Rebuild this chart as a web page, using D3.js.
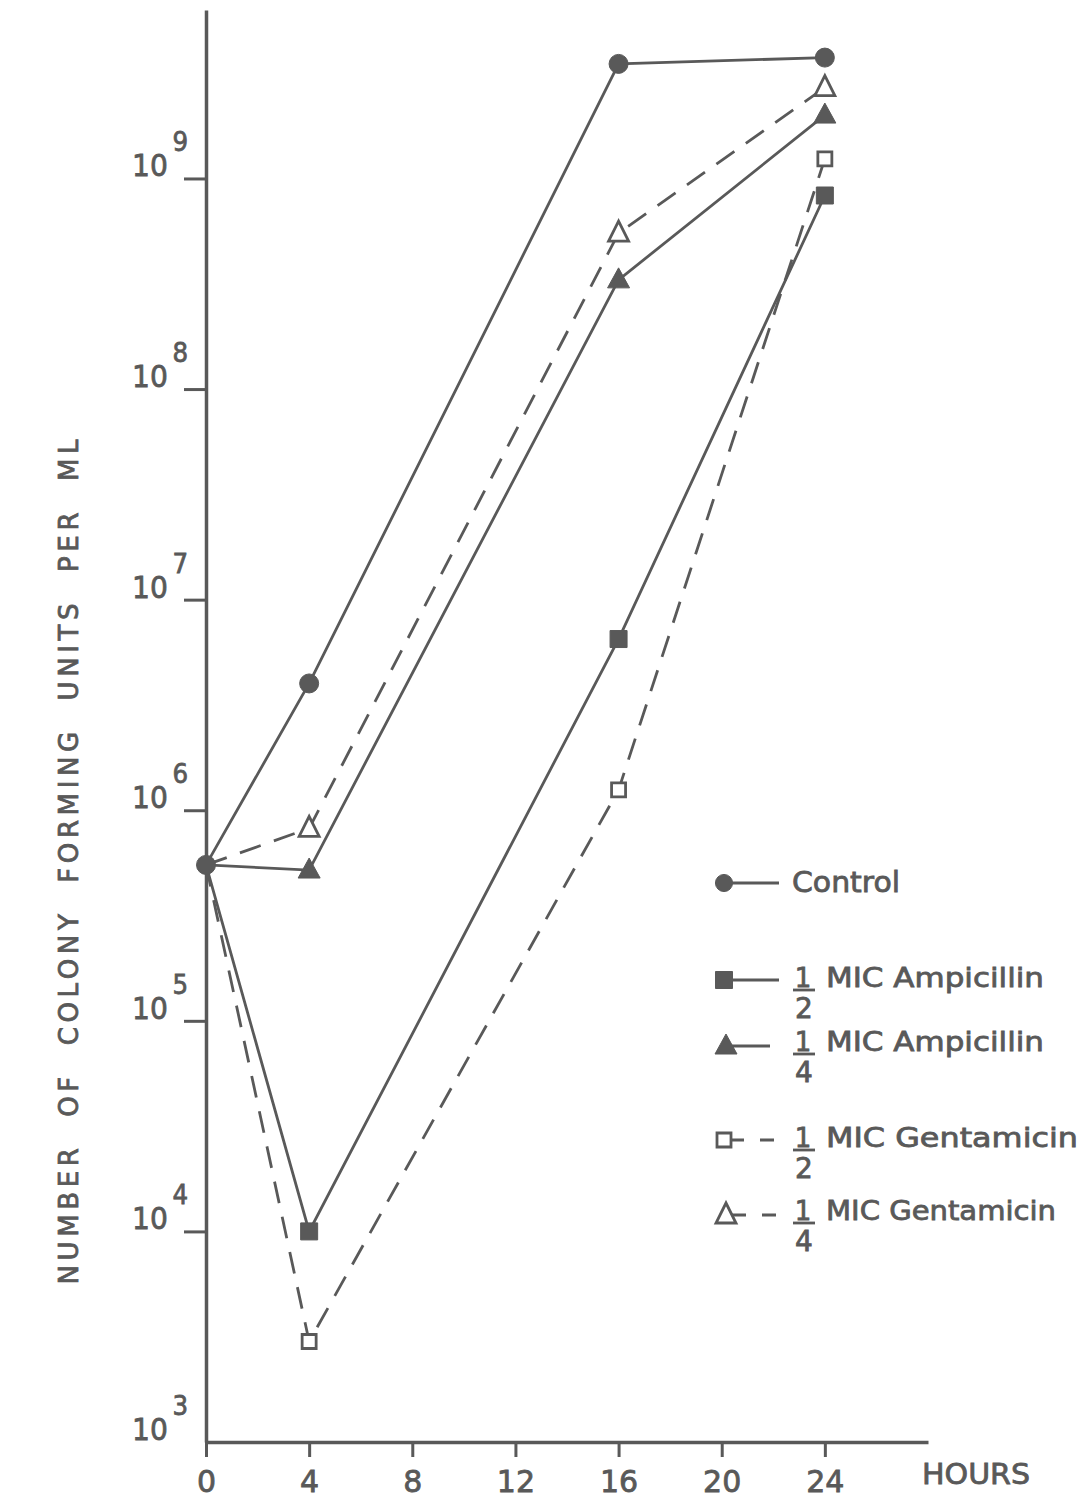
<!DOCTYPE html>
<html>
<head>
<meta charset="utf-8">
<script src="https://cdn.jsdelivr.net/npm/d3@7"></script>
<style>
  html, body { margin: 0; padding: 0; background: #fff; }
  svg text { font-family: "DejaVu Sans", sans-serif; fill: #595959; stroke: #595959; stroke-width: 0.8px; }
</style>
</head>
<body>
<svg id="chart" width="1090" height="1498"></svg>
<script>
// values (CFU per ml)
const hours = [0, 4, 16, 24];
const xTicks = [0, 4, 8, 12, 16, 20, 24];
const yExponents = [3, 4, 5, 6, 7, 8, 9];

const control     = [5.5e5, 4.0e6, 3.5e9, 3.75e9];
const ampHalf     = [5.5e5, 1.0e4, 6.5e6, 8.3e8];
const ampQuarter  = [5.5e5, 5.2e5, 3.3e8, 2.0e9];
const gentHalf    = [5.5e5, 3.0e3, 1.25e6, 1.24e9];
const gentQuarter = [5.5e5, 8.2e5, 5.5e8, 2.7e9];

const seriesKeys   = ['control', 'ampHalf', 'ampQuarter', 'gentHalf', 'gentQuarter'];
const seriesLabels = ['Control', 'MIC Ampicillin', 'MIC Ampicillin', 'MIC Gentamicin', 'MIC Gentamicin'];
const fractionDen  = [null, '2', '4', '2', '4'];

const xTitle = 'HOURS';
const yTitle = 'NUMBER OF COLONY FORMING UNITS PER ML';

const ink = '#595959';
const svg = d3.select('#chart');

// axes run a little past the data, like the drawing
const x = d3.scaleLinear().domain([0, 28]).range([206, 928]);
const y = d3.scaleLog().domain([1e3, Math.pow(10, 9.8)]).range([1442, 10]);

const seriesValues = [control, ampHalf, ampQuarter, gentHalf, gentQuarter];
const series = seriesKeys.map((k, i) => ({
    key: k,
    label: seriesLabels[i],
    den: fractionDen[i],
    points: hours.map((h, j) => ({ h, v: seriesValues[i][j] }))
}));

// how each series is drawn
const style = {
    control:     { marker: 'circle',   filled: true,  dashed: false },
    ampHalf:     { marker: 'square',   filled: true,  dashed: false },
    ampQuarter:  { marker: 'triangle', filled: true,  dashed: false },
    gentHalf:    { marker: 'square',   filled: false, dashed: true },
    gentQuarter: { marker: 'triangle', filled: false, dashed: true }
};

function markerPath(type, filled, scale = 1) {
    if (type === 'circle') {
        const r = 9.5 * scale;
        return `M${-r},0a${r},${r} 0 1,0 ${2*r},0a${r},${r} 0 1,0 ${-2*r},0Z`;
    }
    if (type === 'square') {
        const s = (filled ? 8.5 : 7) * scale;
        return `M${-s},${-s}H${s}V${s}H${-s}Z`;
    }
    const w = (filled ? 11 : 10) * scale, t = 12 * scale, b = 8 * scale;
    return `M0,${-t}L${w},${b}H${-w}Z`;
}

// x axis
const xAxis = svg.append('g')
    .attr('transform', `translate(0,${y(1e3)})`)
    .call(d3.axisBottom(x).tickValues(xTicks).tickSize(15).tickSizeOuter(0));
xAxis.select('.domain').attr('stroke', ink).attr('stroke-width', 3.5);
xAxis.selectAll('.tick line').attr('stroke', ink).attr('stroke-width', 3);
xAxis.selectAll('.tick text')
    .attr('y', 50).attr('dy', 0)
    .style('font-size', '30px');

// y axis: ticks for 10^4..10^9, 10^3 sits on the corner
const yAxis = svg.append('g')
    .attr('transform', `translate(${x(0)},0)`)
    .call(d3.axisLeft(y)
        .tickValues(yExponents.filter(e => e > 3).map(e => Math.pow(10, e)))
        .tickSize(22).tickSizeOuter(0).tickFormat(''));
yAxis.select('.domain').attr('stroke', ink).attr('stroke-width', 3.5);
yAxis.selectAll('.tick line').attr('stroke', ink).attr('stroke-width', 3);

// power-of-ten labels, exponent as a raised tspan
const yLabels = svg.append('g');
yExponents.forEach(e => {
    const t = yLabels.append('text')
        .attr('x', 132).attr('y', y(Math.pow(10, e)) - 2)
        .attr('textLength', 56).attr('lengthAdjust', 'spacingAndGlyphs')
        .style('font-size', '31px')
        .text('10');
    t.append('tspan')
        .attr('dx', 5).attr('dy', -25)
        .style('font-size', '27px')
        .text(e);
});

// axis titles
svg.append('text')
    .attr('x', 922).attr('y', 1484)
    .attr('textLength', 108).attr('lengthAdjust', 'spacingAndGlyphs')
    .style('font-size', '28px')
    .text(xTitle);

svg.append('text')
    .attr('transform', 'translate(78,862) rotate(-90)')
    .attr('text-anchor', 'middle')
    .attr('textLength', 845).attr('lengthAdjust', 'spacing')
    .style('font-size', '26px')
    .style('word-spacing', '14px')
    .text(yTitle);

// lines
const line = d3.line().x(d => x(d.h)).y(d => y(d.v));
const plot = svg.append('g');
plot.selectAll('path.series').data(series).join('path')
    .attr('class', 'series')
    .attr('d', d => line(d.points))
    .attr('fill', 'none')
    .attr('stroke', ink)
    .attr('stroke-width', 2.8)
    .attr('stroke-dasharray', d => style[d.key].dashed ? '22,14' : null);

// markers (the t=0 point is shared, only the circle shows there)
series.forEach(s => {
    const st = style[s.key];
    plot.selectAll(null).data(s.points.filter(p => p.h > 0 || s.key === 'control')).join('path')
        .attr('transform', p => `translate(${x(p.h)},${y(p.v)})`)
        .attr('d', markerPath(st.marker, st.filled))
        .attr('fill', st.filled ? ink : '#fff')
        .attr('stroke', ink)
        .attr('stroke-width', st.filled ? 1 : 2.8);
});

// legend
const legendRows = [883, 980, 1044, 1140, 1213];
const legend = svg.append('g');
series.forEach((s, i) => {
    const st = style[s.key];
    const ry = legendRows[i];
    const mx = st.marker === 'triangle' ? 726 : 724;
    const my = st.marker === 'triangle' ? ry + 2 : ry;
    const ly = st.marker === 'triangle' ? ry + 2 : ry;
    const lineEnd = st.dashed ? 782 : (st.marker === 'triangle' ? 770 : 779);

    legend.append('line')
        .attr('x1', mx).attr('x2', lineEnd)
        .attr('y1', ly).attr('y2', ly)
        .attr('stroke', ink).attr('stroke-width', 2.8)
        .attr('stroke-dasharray', st.dashed ? '20,16,14' : null);

    legend.append('path')
        .attr('transform', `translate(${mx},${my})`)
        .attr('d', markerPath(st.marker, st.filled, st.marker === 'circle' ? 0.9 : 1))
        .attr('fill', st.filled ? ink : '#fff')
        .attr('stroke', ink)
        .attr('stroke-width', st.filled ? 1 : 2.8);

    if (s.den) {
        const tb = ry + 7;
        legend.append('text')
            .attr('x', 803).attr('y', tb)
            .attr('text-anchor', 'middle')
            .style('font-size', '26px')
            .text('1');
        legend.append('line')
            .attr('x1', 793).attr('x2', 815)
            .attr('y1', tb + 3).attr('y2', tb + 3)
            .attr('stroke', ink).attr('stroke-width', 2.8);
        legend.append('text')
            .attr('x', 804).attr('y', tb + 31)
            .attr('text-anchor', 'middle')
            .style('font-size', '28px')
            .text(s.den);
        legend.append('text')
            .attr('x', 826).attr('y', tb)
            .attr('textLength', s.key === 'gentHalf' ? 252 : (s.key === 'gentQuarter' ? 230 : 218))
            .attr('lengthAdjust', 'spacingAndGlyphs')
            .style('font-size', '27px')
            .text(s.label);
    } else {
        legend.append('text')
            .attr('x', 792).attr('y', ry + 9)
            .attr('textLength', 108).attr('lengthAdjust', 'spacingAndGlyphs')
            .style('font-size', '28px')
            .text(s.label);
    }
});
</script>
</body>
</html>
